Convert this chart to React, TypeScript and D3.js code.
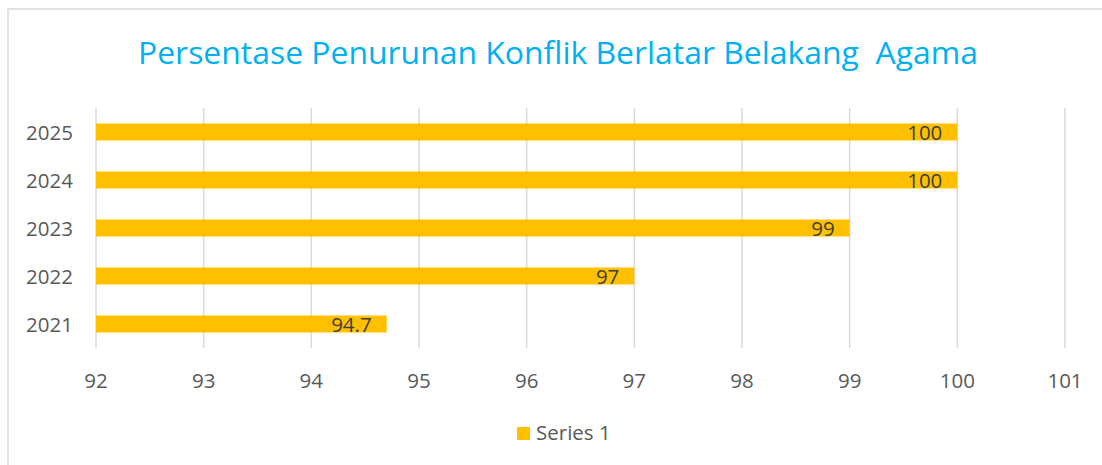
import React from "react";
import * as d3 from "d3";

const title = "Persentase Penurunan Konflik Berlatar Belakang  Agama";
const categories = ["2021", "2022", "2023", "2024", "2025"];
const values = [94.7, 97, 99, 100, 100];
const xTicks = [92, 93, 94, 95, 96, 97, 98, 99, 100, 101];
const seriesName = "Series 1";

const W = 1102;
const H = 465;
const FONT = "'Open Sans', sans-serif";

export default function App() {
  const x = d3.scaleLinear().domain([92, 101]).range([96, 1065]);
  const y = d3
    .scaleBand<string>()
    .domain([...categories].reverse())
    .range([108, 348])
    .paddingInner(0.646)
    .paddingOuter(0.323);

  return (
    <svg
      width={W}
      height={H}
      style={{ position: "absolute", left: 0, top: 0, background: "#fff" }}
      fontFamily={FONT}
    >
      <rect x={0} y={0} width={W} height={H} fill="#fff" />
      <rect x={8} y={9} width={W + 50} height={H + 50} fill="none" stroke="#d9d9d9" strokeWidth={1.5} />
      <text
        x={558}
        y={64}
        textAnchor="middle"
        fontSize={31}
        fill="#00b0f0"
        textLength={840}
        lengthAdjust="spacingAndGlyphs"
        style={{ whiteSpace: "pre" }}
      >
        {title}
      </text>
      {xTicks.map((t) => (
        <line key={"g" + t} x1={x(t)} x2={x(t)} y1={108} y2={348} stroke="#d9d9d9" strokeWidth={1.5} />
      ))}
      {xTicks.map((t) => (
        <text key={"t" + t} x={x(t)} y={388} textAnchor="middle" fontSize={20.5} fill="#595959">
          {t}
        </text>
      ))}
      {categories.map((c, i) => (
        <g key={c}>
          <rect
            x={x(92)}
            y={y(c)!}
            width={x(values[i]) - x(92)}
            height={y.bandwidth()}
            fill="#ffc000"
          />
          <text x={73} y={y(c)! + y.bandwidth() / 2 + 7.5} textAnchor="end" fontSize={20.5} fill="#595959">
            {c}
          </text>
          <text
            x={x(values[i]) - 15}
            y={y(c)! + y.bandwidth() / 2 + 7.5}
            textAnchor="end"
            fontSize={20.5}
            fill="#404040"
          >
            {values[i]}
          </text>
        </g>
      ))}
      <rect x={517} y={427} width={13} height={13} fill="#ffc000" />
      <text x={536} y={440} fontSize={20.5} fill="#595959">
        {seriesName}
      </text>
    </svg>
  );
}
